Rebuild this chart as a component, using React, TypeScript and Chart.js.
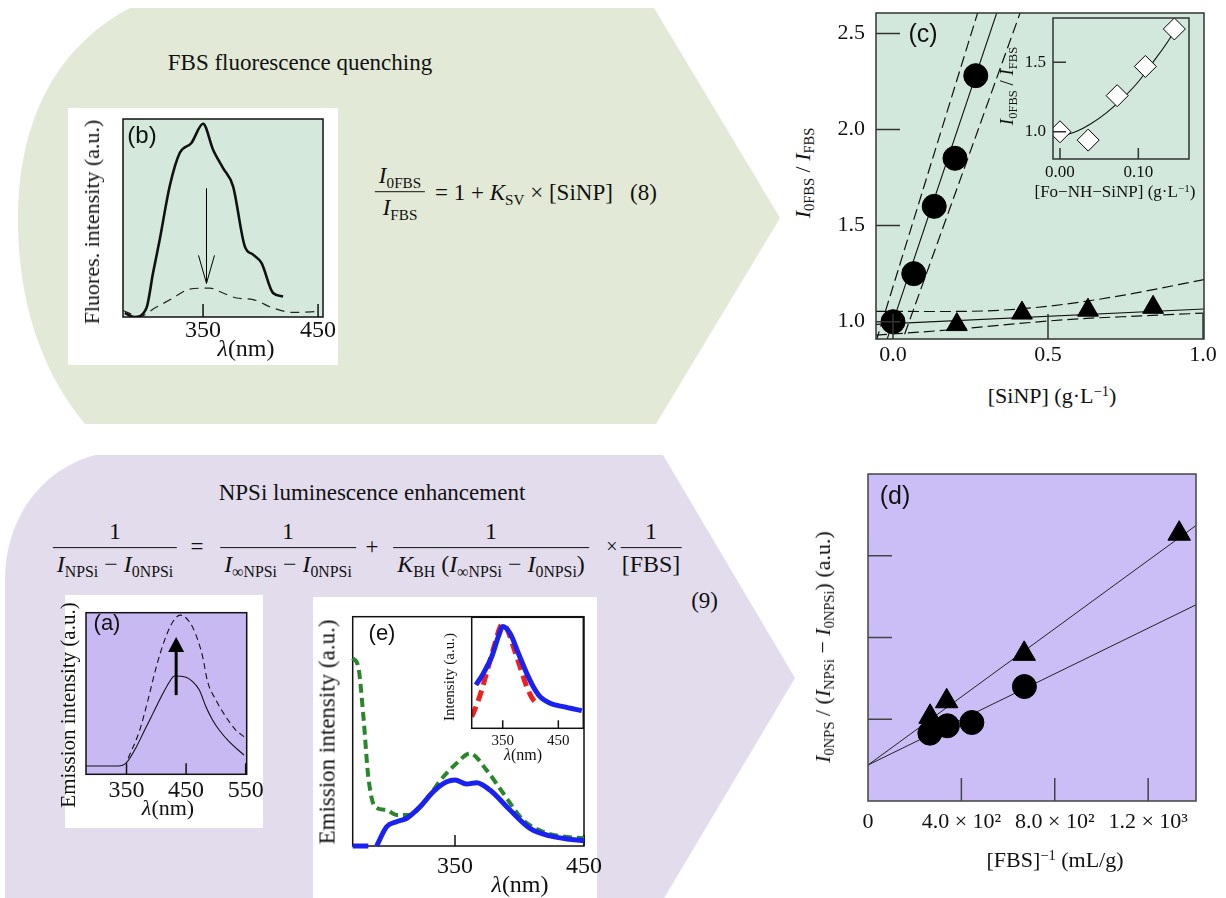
import React, { useEffect, useRef } from "react";
import { Chart, registerables } from "chart.js";
Chart.register(...registerables);

const SERIF = '"Liberation Serif","Times New Roman",serif';
const SANS = '"Liberation Sans",Arial,sans-serif';

// ---------- (b) FBS fluorescence spectra ----------
const bWaveBefore = [281.9, 290.6, 300.8, 306.5, 312.3, 321, 329.7, 339.9, 350, 358.7, 367.4, 376.1, 386.3, 393.5, 400.8, 410.9, 419.6];
const bIntBefore = [2.0, 0, 4.5, 22.2, 39, 66, 82.8, 87.9, 97.6, 84.5, 75.2, 66, 35.7, 31.5, 27.3, 12.1, 10.4];
const bWaveAfter = [280.4, 295, 308, 324, 338.4, 355.8, 367.4, 379, 393.5, 410.9, 428.3, 451.5];
const bIntAfter = [3.3, 0.3, 4.5, 9.6, 14.1, 14.6, 12.1, 9.6, 8.8, 4.5, 2.3, 2.8];
const bTickValues = [350, 450];
const bTickLabels = ["350", "450"];
const bArrowX = [353, 353];
const bArrowY = [65, 17];

// ---------- (c) Stern-Volmer ----------
const cSiNPCircle = [0, 0.067, 0.133, 0.2, 0.267];
const cRatioCircle = [1.0, 1.25, 1.6, 1.85, 2.28];
const cSiNPTriangle = [0.206, 0.416, 0.629, 0.839];
const cRatioTriangle = [0.985, 1.045, 1.06, 1.075];
const cFitCircleX = [-0.06, 0.36];
const cFitCircleY = [0.712, 2.728];
const cBandCircleLeftX = [-0.055, 0.29];
const cBandCircleLeftY = [0.895, 2.695];
const cBandCircleRightX = [0.02, 0.43];
const cBandCircleRightY = [0.856, 2.696];
const cFitTriangleX = [-0.055, 1.003];
const cFitTriangleY = [0.986, 1.066];
const cBandTriUpX = [-0.055, 0.15, 0.35, 0.55, 0.75, 1.003];
const cBandTriUpY = [1.054, 1.053, 1.06, 1.09, 1.14, 1.219];
const cBandTriLoX = [-0.055, 0.2, 0.4, 0.6, 0.8, 1.003];
const cBandTriLoY = [0.93, 0.96, 0.99, 1.015, 1.03, 1.045];
const cXTickValues = [0, 0.5, 1.0];
const cXTickLabels = ["0.0", "0.5", "1.0"];
const cYTickValues = [1.0, 1.5, 2.0, 2.5];
const cYTickLabels = ["1.0", "1.5", "2.0", "2.5"];

// (c) inset
const cInsetConc = [0, 0.036, 0.073, 0.109, 0.146];
const cInsetRatio = [1.0, 0.94, 1.26, 1.47, 1.74];
const cInsetCurveX = [0, 0.02, 0.04, 0.06, 0.08, 0.1, 0.12, 0.14, 0.148];
const cInsetCurveY = [0.965, 1.0, 1.06, 1.14, 1.24, 1.36, 1.51, 1.67, 1.75];
const cInsetXTickValues = [0, 0.1];
const cInsetXTickLabels = ["0.00", "0.10"];
const cInsetYTickValues = [1.0, 1.5];
const cInsetYTickLabels = ["1.0", "1.5"];

// ---------- (a) NPSi emission ----------
const aWaveBefore = [282, 336, 350, 366.7, 380.5, 394.4, 408.3, 422.2, 430.5, 450, 461, 472.2, 483.3, 494.4, 505.5, 522.2, 547.2];
const aIntBefore = [5.1, 5.1, 7.2, 17.1, 27.4, 37.7, 48, 57.3, 60.8, 60, 57.3, 52.1, 41.8, 33.6, 27.4, 20.2, 11.9];
const aWaveAfter = [352.8, 372.2, 386, 400, 413.9, 427.8, 440, 455.5, 466.7, 477.8, 486.1, 500, 516.7, 533.3, 547.2];
const aIntAfter = [9.9, 27.4, 46, 66.5, 83, 94.4, 98.5, 94.4, 86.1, 72.7, 57.3, 46, 35.6, 27.4, 23.3];
const aTickValues = [350, 450, 550];
const aTickLabels = ["350", "450", "550"];
const aArrowX = [433.3, 433.3];
const aArrowY = [49, 85];

// ---------- (e) emission spectra ----------
const eBlueX = [270.7, 282.8, 285, 289.3, 297, 304.8, 312.6, 322.9, 333.2, 343.6, 350, 359, 366.8, 377.1, 392.6, 408.1, 423.6, 439.1, 450];
const eBlueY = [0, 0, null, 0, 8.4, 10.6, 12.1, 17.1, 23.7, 28, 28.8, 27, 27.6, 24.4, 15.7, 7.7, 4.4, 2.9, 2.3];
const eGreenX = [270.7, 275, 279, 282.8, 288, 297, 304.8, 315.1, 325.4, 341, 351.3, 361.6, 374.5, 387.4, 402.9, 418.4, 433.9, 450];
const eGreenY = [81.9, 78.2, 56.4, 30.2, 17.1, 15.7, 13.5, 13.5, 18.6, 30.2, 36.1, 40.4, 33.1, 23, 11.3, 6.2, 4.1, 3.4];
const eTickValues = [350, 450];
const eTickLabels = ["350", "450"];
const eInsetBlueX = [302, 315.1, 330.2, 342.1, 350, 363.1, 378.1, 393.2, 405, 417.1, 435.1, 459, 492.1];
const eInsetBlueY = [39, 49.5, 64.5, 82.5, 91.6, 85.6, 67.6, 49.5, 37.5, 28.5, 22.5, 19.5, 15.9];
const eInsetRedX = [294.2, 303.2, 312.2, 324.1, 336.2, 348.2, 357.2, 369.1, 381.1, 393.2, 405, 414];
const eInsetRedY = [10.5, 21, 34.5, 55.5, 76.6, 93, 90, 73.5, 55.5, 37.5, 25.5, 21];

// ---------- (d) Benesi-Hildebrand ----------
const dInvFBSCircle = [265, 340, 445, 670];
const dValueCircle = [0.83, 0.92, 0.96, 1.4];
const dInvFBSTriangle = [266, 337, 669, 1333];
const dValueTriangle = [1.03, 1.22, 1.8, 3.27];
const dFitX = [0, 1405];
const dFitCircleY = [0.44, 2.4];
const dFitTriangleY = [0.44, 3.37];
const dXTickValues = [400, 800, 1200];
const dXLabelValues = [0, 400, 800, 1200];
const dXLabels = ["0", "4.0 × 10²", "8.0 × 10²", "1.2 × 10³"];
const dYTickValues = [1, 2, 3];

// ---------------------------------------------------
const pts = (xs: number[], ys: (number | null)[]) => xs.map((x, i) => ({ x, y: ys[i] }));

function lineDS(xs: number[], ys: (number | null)[], color: string, width: number, dash: number[] = [], smooth = true, clip?: number) {
  const ds: any = {
    data: pts(xs, ys),
    showLine: true,
    borderColor: color,
    backgroundColor: color,
    borderWidth: width,
    borderDash: dash,
    cubicInterpolationMode: smooth ? "monotone" : "default",
    tension: 0,
    pointRadius: 0,
    spanGaps: false,
    borderCapStyle: "butt",
  };
  if (clip !== undefined) ds.clip = clip;
  return ds;
}

function markDS(xs: number[], ys: number[], style: string, radius: number, fill: string) {
  return {
    data: pts(xs, ys),
    showLine: false,
    pointStyle: style,
    pointRadius: radius,
    pointBackgroundColor: fill,
    pointBorderColor: "#000",
    pointBorderWidth: 1,
  };
}

function drawArrow(ctx: any, x1: number, y1: number, x2: number, y2: number, w: number, len: number, half: number, filled: boolean) {
  const ang = Math.atan2(y2 - y1, x2 - x1);
  const bx = x2 - Math.cos(ang) * len;
  const by = y2 - Math.sin(ang) * len;
  const nx = -Math.sin(ang), ny = Math.cos(ang);
  ctx.save();
  ctx.strokeStyle = "#000";
  ctx.fillStyle = "#000";
  ctx.lineWidth = w;
  ctx.beginPath();
  ctx.moveTo(x1, y1);
  ctx.lineTo(filled ? bx : x2, filled ? by : y2);
  ctx.stroke();
  if (filled) {
    ctx.beginPath();
    ctx.moveTo(x2, y2);
    ctx.lineTo(bx + nx * half, by + ny * half);
    ctx.lineTo(bx - nx * half, by - ny * half);
    ctx.closePath();
    ctx.fill();
  } else {
    ctx.lineWidth = 1;
    ctx.beginPath();
    ctx.moveTo(bx + nx * half, by + ny * half);
    ctx.lineTo(x2, y2);
    ctx.lineTo(bx - nx * half, by - ny * half);
    ctx.stroke();
  }
  ctx.restore();
}

function drawBox(chart: any, f: any) {
  const { ctx, chartArea: a, scales } = chart;
  const xs = scales.x, ys = scales.y;
  ctx.save();
  ctx.strokeStyle = f.border || "#111";
  ctx.lineWidth = f.borderWidth || 1.5;
  ctx.strokeRect(a.left, a.top, a.right - a.left, a.bottom - a.top);
  ctx.lineWidth = f.tickWidth || 1.5;
  ctx.beginPath();
  (f.xTicks || []).forEach((v: number) => {
    const px = xs.getPixelForValue(v);
    ctx.moveTo(px, a.bottom);
    ctx.lineTo(px, a.bottom - f.xTickLen);
  });
  (f.yTicks || []).forEach((v: number) => {
    const py = ys.getPixelForValue(v);
    ctx.moveTo(a.left, py);
    ctx.lineTo(a.left + f.yTickLen, py);
  });
  ctx.stroke();
  ctx.restore();
}

function framePlugin(f: any) {
  return {
    id: "frame",
    beforeDatasetsDraw(chart: any) {
      const { ctx, chartArea: a } = chart;
      if (f.bg) {
        ctx.save();
        ctx.fillStyle = f.bg;
        ctx.fillRect(a.left, a.top, a.right - a.left, a.bottom - a.top);
        ctx.restore();
      }
      if (f.under) drawBox(chart, f);
    },
    afterDatasetsDraw(chart: any) {
      const { ctx, chartArea: a, scales } = chart;
      const xs = scales.x, ys = scales.y;
      if (!f.under) drawBox(chart, f);
      ctx.save();
      ctx.fillStyle = "#111";
      ctx.font = f.font;
      ctx.textAlign = "center";
      ctx.textBaseline = "middle";
      (f.xLabelVals || []).forEach((v: number, i: number) => {
        ctx.fillText(f.xLabels[i], xs.getPixelForValue(v), a.bottom + f.xGap);
      });
      ctx.textAlign = "right";
      (f.yLabelVals || []).forEach((v: number, i: number) => {
        ctx.fillText(f.yLabels[i], a.left - f.yGap, ys.getPixelForValue(v));
      });
      (f.arrows || []).forEach((ar: any) => {
        drawArrow(
          ctx,
          xs.getPixelForValue(ar.x[0]), ys.getPixelForValue(ar.y[0]),
          xs.getPixelForValue(ar.x[1]), ys.getPixelForValue(ar.y[1]),
          ar.width, ar.len, ar.half, ar.filled
        );
      });
      ctx.restore();
    },
  };
}

function makeConfig(p: any) {
  return {
    type: "scatter",
    data: { datasets: p.datasets },
    options: {
      animation: false,
      responsive: false,
      maintainAspectRatio: false,
      devicePixelRatio: 1,
      events: [],
      layout: { padding: p.pad },
      plugins: { legend: { display: false }, tooltip: { enabled: false } },
      scales: {
        x: { type: "linear", display: false, min: p.x[0], max: p.x[1] },
        y: { type: "linear", display: false, min: p.y[0], max: p.y[1] },
      },
    },
    plugins: [framePlugin(p.frame)],
  };
}

function Plot({ left, top, width, height, bg, cfg }: any) {
  const ref = useRef<HTMLCanvasElement>(null);
  useEffect(() => {
    const chart = new Chart(ref.current as any, cfg() as any);
    return () => chart.destroy();
  }, []);
  return (
    <canvas
      ref={ref}
      width={width}
      height={height}
      style={{ position: "absolute", left, top, width, height, background: bg || "transparent" }}
    />
  );
}

function T({ x, y, size = 22, children, rot = false, font = SERIF, align = "center" }: any) {
  const tx = align === "left" ? "0" : align === "right" ? "-100%" : "-50%";
  return (
    <div
      style={{
        position: "absolute",
        left: x,
        top: y,
        fontFamily: font,
        fontSize: size,
        lineHeight: 1,
        whiteSpace: "nowrap",
        color: "#111",
        transform: `translate(${tx},-50%)` + (rot ? " rotate(-90deg)" : ""),
      }}
    >
      {children}
    </div>
  );
}

const Sb = ({ children }: any) => (
  <span style={{ fontSize: "0.66em", position: "relative", top: "0.3em", fontStyle: "normal" }}>{children}</span>
);
const Sp = ({ children }: any) => (
  <span style={{ fontSize: "0.66em", position: "relative", top: "-0.45em" }}>{children}</span>
);
const I = ({ children }: any) => <i>{children}</i>;

function Frac({ x, y, num, den, size = 22, pad = 4 }: any) {
  return (
    <div
      style={{
        position: "absolute",
        left: x,
        top: y,
        transform: "translate(-50%,-50%)",
        display: "inline-flex",
        flexDirection: "column",
        alignItems: "stretch",
        fontFamily: SERIF,
        fontSize: size,
        lineHeight: 1.1,
        whiteSpace: "nowrap",
        color: "#111",
        textAlign: "center",
      }}
    >
      <div style={{ padding: `0 ${pad}px 3px` }}>{num}</div>
      <div style={{ borderTop: "1.6px solid #111", padding: `3px ${pad}px 0` }}>{den}</div>
    </div>
  );
}

const GREEN_BG = "#e2e9d6";
const PURPLE_BG = "#e3dcec";

export default function App() {
  const cfgB = () =>
    makeConfig({
      x: [280.4, 454.3],
      y: [0, 100],
      pad: { left: 55, top: 11, right: 15, bottom: 48 },
      datasets: [
        lineDS(bWaveBefore, bIntBefore, "#111", 2.6),
        lineDS(bWaveAfter, bIntAfter, "#222", 1.2, [9, 6]),
      ],
      frame: {
        bg: "#d4e9dc",
        xTicks: bTickValues, xTickLen: 13,
        xLabelVals: bTickValues, xLabels: bTickLabels,
        font: `24px "Liberation Serif"`, xGap: 14,
        arrows: [{ x: bArrowX, y: bArrowY, width: 1, len: 28, half: 8, filled: false }],
      },
    });

  const cfgC = () =>
    makeConfig({
      x: [-0.0548, 1.0032],
      y: [0.91, 2.606],
      pad: { left: 56, top: 13, right: 22, bottom: 41 },
      datasets: [
        markDS(cSiNPCircle, cRatioCircle, "circle", 12, "#000"),
        markDS(cSiNPTriangle, cRatioTriangle, "triangle", 12, "#000"),
        lineDS(cFitCircleX, cFitCircleY, "#111", 1.1, [], false),
        lineDS(cBandCircleLeftX, cBandCircleLeftY, "#111", 1.2, [11, 5], false),
        lineDS(cBandCircleRightX, cBandCircleRightY, "#111", 1.2, [11, 5], false),
        lineDS(cFitTriangleX, cFitTriangleY, "#111", 1.1, [], false),
        lineDS(cBandTriUpX, cBandTriUpY, "#111", 1.2, [11, 5]),
        lineDS(cBandTriLoX, cBandTriLoY, "#111", 1.2, [11, 5]),
      ],
      frame: {
        bg: "#d2e8dc",
        border: "#333",
        xTicks: cXTickValues, xTickLen: 25,
        yTicks: cYTickValues, yTickLen: 24,
        xLabelVals: cXTickValues, xLabels: cXTickLabels,
        yLabelVals: cYTickValues, yLabels: cYTickLabels,
        font: `22px "Liberation Serif"`, xGap: 16, yGap: 11,
      },
    });

  const cfgCInset = () =>
    makeConfig({
      x: [-0.0089, 0.1647],
      y: [0.804, 1.819],
      pad: { left: 53, top: 13, right: 21, bottom: 46 },
      datasets: [
        markDS(cInsetConc, cInsetRatio, "rectRot", 11, "#fff"),
        lineDS(cInsetCurveX, cInsetCurveY, "#111", 1.1),
      ],
      frame: {
        border: "#333",
        xTicks: cInsetXTickValues, xTickLen: 11,
        yTicks: cInsetYTickValues, yTickLen: 13,
        xLabelVals: cInsetXTickValues, xLabels: cInsetXTickLabels,
        yLabelVals: cInsetYTickValues, yLabels: cInsetYTickLabels,
        font: `17px "Liberation Serif"`, xGap: 14, yGap: 7,
      },
    });

  const cfgA = () =>
    makeConfig({
      x: [282, 551.7],
      y: [0, 100],
      pad: { left: 21, top: 17.7, right: 16.3, bottom: 53.7 },
      datasets: [
        lineDS(aWaveBefore, aIntBefore, "#111", 1.1),
        lineDS(aWaveAfter, aIntAfter, "#111", 1.1, [6, 4]),
      ],
      frame: {
        bg: "#c8b9f3",
        xTicks: aTickValues, xTickLen: 11,
        xLabelVals: aTickValues, xLabels: aTickLabels,
        font: `24px "Liberation Serif"`, xGap: 16,
        arrows: [{ x: aArrowX, y: aArrowY, width: 3, len: 15, half: 8, filled: true }],
      },
    });

  const cfgE = () =>
    makeConfig({
      x: [270.7, 450],
      y: [0, 100],
      pad: { left: 39.7, top: 19.7, right: 23, bottom: 52 },
      datasets: [
        lineDS(eBlueX, eBlueY, "#1a22f0", 5, [], true, 6),
        lineDS(eGreenX, eGreenY, "#2a862a", 4, [9, 5], true, 4),
      ],
      frame: {
        bg: "#ffffff",
        under: true,
        xTicks: eTickValues, xTickLen: 11,
        xLabelVals: eTickValues, xLabels: eTickLabels,
        font: `24px "Liberation Serif"`, xGap: 21,
      },
    });

  const cfgEInset = () =>
    makeConfig({
      x: [294.2, 494.9],
      y: [0, 100],
      pad: { left: 31.7, top: 17.3, right: 13.7, bottom: 31.7 },
      datasets: [
        lineDS(eInsetBlueX, eInsetBlueY, "#1a22f0", 5),
        lineDS(eInsetRedX, eInsetRedY, "#f02020", 5, [11, 6]),
      ],
      frame: {
        bg: "#ffffff",
        xTicks: eTickValues, xTickLen: 8,
        xLabelVals: eTickValues, xLabels: eTickLabels,
        font: `15px "Liberation Serif"`, xGap: 13,
      },
    });

  const cfgD = () =>
    makeConfig({
      x: [0, 1405],
      y: [0, 4.0],
      pad: { left: 38, top: 34, right: 30, bottom: 79 },
      datasets: [
        markDS(dInvFBSCircle, dValueCircle, "circle", 12, "#000"),
        markDS(dInvFBSTriangle, dValueTriangle, "triangle", 13, "#000"),
        lineDS(dFitX, dFitCircleY, "#222", 1, [], false),
        lineDS(dFitX, dFitTriangleY, "#222", 1, [], false),
      ],
      frame: {
        bg: "#cbbef6",
        border: "#444",
        xTicks: dXTickValues, xTickLen: 23,
        yTicks: dYTickValues, yTickLen: 24,
        xLabelVals: dXLabelValues, xLabels: dXLabels,
        font: `22px "Liberation Serif"`, xGap: 21,
      },
    });

  return (
    <div
      style={{
        position: "absolute",
        left: 0,
        top: 0,
        width: 1226,
        height: 898,
        overflow: "hidden",
        background: "#ffffff",
        fontFamily: SERIF,
      }}
    >
      <svg width={1226} height={898} style={{ position: "absolute", left: 0, top: 0 }}>
        <path
          d="M 130 8 L 654 8 L 780 218 L 656 424 L 85 424 C 40 370 18 300 18 218 C 18 130 50 50 130 8 Z"
          fill={GREEN_BG}
        />
        <path
          d="M 95 455 L 663 455 L 795 678 L 660 905 L 5 905 L 5 580 C 5 520 40 470 95 455 Z"
          fill={PURPLE_BG}
        />
      </svg>

      {/* top block */}
      <T x={300} y={62} size={23}>FBS fluorescence quenching</T>
      <div style={{ position: "absolute", left: 68, top: 108, width: 270, height: 257, background: "#fff" }} />
      <Plot left={68} top={108} width={270} height={257} cfg={cfgB} />
      <T x={142} y={135} size={24} font={SANS}>(b)</T>
      <T x={92} y={222} size={22} rot>Fluores. intensity (a.u.)</T>
      <T x={246} y={348} size={24}><I>λ</I>(nm)</T>

      <Frac x={400} y={192} size={23} num={<span><I>I</I><Sb>0FBS</Sb></span>} den={<span><I>I</I><Sb>FBS</Sb></span>} />
      <T x={435} y={192} size={23} align="left">
        = 1 + <I>K</I><Sb>SV</Sb> × [SiNP]&nbsp;&nbsp;&nbsp;(8)
      </T>

      {/* (c) */}
      <Plot left={820} top={0} width={406} height={380} cfg={cfgC} />
      <Plot left={1000} top={5} width={210} height={200} cfg={cfgCInset} />
      <T x={923} y={33} size={25} font={SANS}>(c)</T>
      <T x={803} y={173} size={22} rot><I>I</I><Sb>0FBS</Sb> / <I>I</I><Sb>FBS</Sb></T>
      <T x={1052} y={396} size={22}>[SiNP] (g·L<Sp>−1</Sp>)</T>
      <T x={1006} y={86} size={19} rot><I>I</I><Sb>0FBS</Sb> / <I>I</I><Sb>FBS</Sb></T>
      <T x={1115} y={191} size={17}>[Fo−NH−SiNP] (g·L<Sp>−1</Sp>)</T>

      {/* bottom block */}
      <T x={372} y={492} size={23}>NPSi luminescence enhancement</T>
      <Frac x={115} y={548} size={24} num="1" den={<span><I>I</I><Sb>NPSi</Sb> − <I>I</I><Sb>0NPSi</Sb></span>} />
      <T x={197} y={546} size={23}>=</T>
      <Frac x={288} y={548} size={24} num="1" den={<span><I>I</I><Sb>∞NPSi</Sb> − <I>I</I><Sb>0NPSi</Sb></span>} />
      <T x={372} y={546} size={23}>+</T>
      <Frac x={491} y={548} size={24} num="1" den={<span><I>K</I><Sb>BH</Sb> (<I>I</I><Sb>∞NPSi</Sb> − <I>I</I><Sb>0NPSi</Sb>)</span>} />
      <T x={612} y={546} size={20}>×</T>
      <Frac x={651} y={548} size={24} pad={1} num="1" den="[FBS]" />
      <T x={718} y={600} size={23} align="right">(9)</T>

      <div style={{ position: "absolute", left: 65, top: 595, width: 198, height: 233, background: "#fff" }} />
      <Plot left={65} top={595} width={198} height={233} cfg={cfgA} />
      <T x={107} y={623} size={22} font={SANS}>(a)</T>
      <T x={68} y={705} size={21} rot>Emission intensity (a.u.)</T>
      <T x={168} y={808} size={22}><I>λ</I>(nm)</T>

      <div style={{ position: "absolute", left: 313, top: 597, width: 284, height: 301, background: "#fff" }} />
      <Plot left={313} top={597} width={294} height={301} cfg={cfgE} />
      <Plot left={440} top={600} width={157} height={160} cfg={cfgEInset} />
      <T x={382} y={633} size={22} font={SANS}>(e)</T>
      <T x={327} y={732} size={23} rot>Emission intensity (a.u.)</T>
      <T x={520} y={884} size={24}><I>λ</I>(nm)</T>
      <T x={449} y={677} size={15} rot>Intensity (a.u.)</T>
      <T x={523} y={755} size={16}><I>λ</I>(nm)</T>

      {/* (d) */}
      <Plot left={830} top={440} width={396} height={440} cfg={cfgD} />
      <T x={895} y={495} size={25} font={SANS}>(d)</T>
      <T x={823} y={647} size={22} rot>
        <I>I</I><Sb>0NPS</Sb> / (<I>I</I><Sb>NPSi</Sb> − <I>I</I><Sb>0NPSi</Sb>) (a.u.)
      </T>
      <T x={1055} y={860} size={22}>[FBS]<Sp>−1</Sp> (mL/g)</T>
    </div>
  );
}
